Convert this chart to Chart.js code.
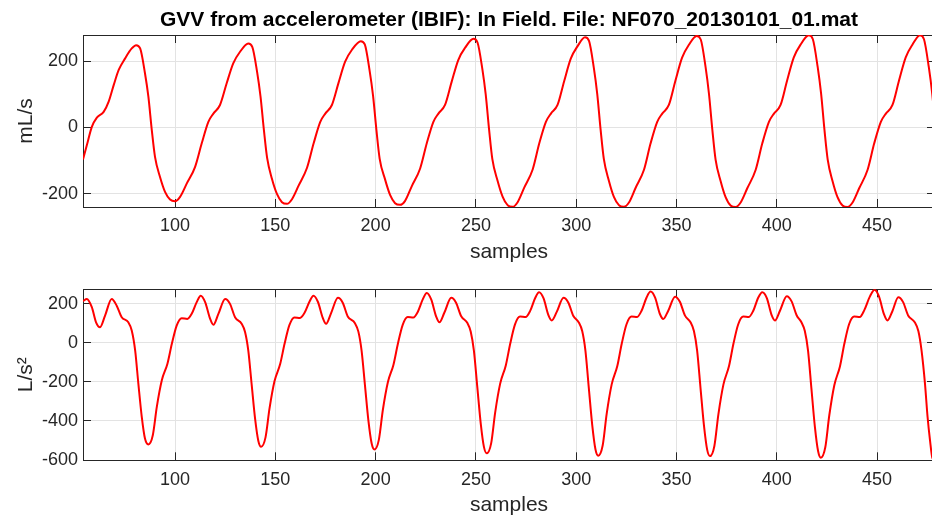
<!DOCTYPE html>
<html>
<head>
<meta charset="utf-8">
<script src="https://cdn.jsdelivr.net/npm/chart.js@4.4.0/dist/chart.umd.min.js"></script>
<style>
  html, body { margin: 0; padding: 0; background: #fff; overflow: hidden; }
  #wrap { position: relative; width: 932px; height: 518px; overflow: hidden; }
  .panel { position: absolute; left: 0; }
  #top { top: 0; }
  #bottom { top: 265px; }
</style>
</head>
<body>
<div id="wrap">
  <div class="panel" id="top"><canvas id="gvvChart" width="936" height="265"></canvas></div>
  <div class="panel" id="bottom"><canvas id="accChart" width="936" height="253"></canvas></div>
</div>
<script>
// axis limits and ticks
const sampleRange = [54.1, 478.9];
const sampleTicks = [100, 150, 200, 250, 300, 350, 400, 450];
const gvvRange = [-240.6, 279.7];
const gvvTicks = [-200, 0, 200];
const accRange = [-601.5, 273.7];
const accTicks = [-600, -400, -200, 0, 200];

// GVV (mL/s) - top panel
const gvvSamples = [
  54.1, 56, 58.5, 61, 64.4, 66.9, 69.4, 71.9, 75.1, 78.4, 80.6,
  82.6, 85, 86.7, 88.4, 90, 92.5, 95, 97.5, 100,
  102.5, 105.8, 110, 113.3, 116.6, 119.1, 122.4, 125.7, 129, 132.4, 136.5,
  138.5, 140.9, 142.6, 144.3, 145.9, 148.3, 150.8, 153.3, 155.8,
  158.3, 161.6, 165.8, 169.1, 172.4, 174.9, 178.2, 181.5, 184.8, 188.2, 192.6,
  194.6, 197, 198.7, 200.4, 202, 204.7, 207.2, 209.7, 212.2,
  214.7, 218, 222.2, 225.5, 228.8, 231.3, 234.6, 237.9, 241.2, 244.6, 248.8,
  250.8, 253.2, 254.9, 256.6, 258.2, 260.8, 263.3, 265.8, 268.3,
  270.8, 274.1, 278.3, 281.6, 284.9, 287.4, 290.7, 294, 297.3, 300.7, 304.4,
  306.4, 308.8, 310.5, 312.2, 313.8, 316.3, 318.8, 321.3, 323.8,
  326.3, 329.6, 333.8, 337.1, 340.4, 342.9, 346.2, 349.5, 352.8, 356.2, 360.1,
  362.1, 364.5, 366.2, 367.9, 369.5, 372, 374.5, 377, 379.5,
  382, 385.3, 389.5, 392.8, 396.1, 398.6, 401.9, 405.2, 408.5, 411.9, 416,
  418, 420.4, 422.1, 423.8, 425.4, 427.8, 430.3, 432.8, 435.3,
  437.8, 441.1, 445.3, 448.6, 451.9, 454.4, 457.7, 461, 464.3, 467.7, 471.4,
  473.4, 475.8, 477.5, 479.2
];
const gvvValues = [
  -97, -54, 2, 30, 47, 78, 128, 174, 209, 239, 249,
  239, 164, 93, -8, -89, -150, -195, -218, -223,
  -210, -170, -119, -48, 17, 42, 68, 133, 194, 229, 254,
  244, 168, 94, -8, -92, -155, -201, -226, -231,
  -217, -176, -122, -48, 17, 42, 68, 135, 199, 235, 261,
  251, 172, 97, -8, -94, -157, -204, -229, -234,
  -222, -178, -124, -48, 17, 42, 68, 138, 204, 241, 268,
  257, 177, 99, -8, -96, -161, -209, -235, -240,
  -226, -182, -127, -48, 17, 42, 68, 140, 208, 246, 273,
  262, 180, 101, -8, -96, -161, -210, -235, -240,
  -227, -183, -128, -48, 17, 42, 68, 142, 211, 250, 277,
  266, 183, 102, -8, -97, -162, -211, -236, -240.5,
  -227, -184, -128, -48, 17, 42, 68, 143, 212, 251, 279,
  267, 183, 103, -8, -97, -162, -211, -236, -240.5,
  -227, -184, -128, -48, 17, 42, 68, 143, 212, 251, 279,
  267, 183, 103, -8
];

// flow derivative (L/s^2) - bottom panel
const accSamples = [
  54.1, 56, 58.5, 60.6, 62.6, 65.1, 68.4, 70.9, 73.4, 76.7, 78.4, 80.1, 81.7, 83.4, 85, 86.7,
  88.9, 90.9, 93.4, 96.2, 98.4, 100.8, 103.3, 106.1, 108.3, 110.8, 112.8, 115, 117.5, 119.1, 121.6, 125, 127.4, 129.9,
  133.2, 134.9, 136.5, 138.2, 139.9, 141.5, 142.9,
  145.1, 147.1, 149.6, 152.4, 154.6, 157, 159.5, 162.3, 164.5, 167, 169, 171.2, 173.7, 175.3, 177.8, 181.2, 183.6, 186.1,
  189.7, 191.4, 193, 194.7, 196.4, 198, 199.4,
  201.6, 203.6, 206.1, 208.9, 211.1, 213.5, 216, 218.8, 221, 223.5, 225.5, 227.7, 230.2, 231.8, 234.3, 237.7, 240.1, 242.6,
  245.7, 247.4, 249, 250.7, 252.4, 254, 255.4,
  257.6, 259.6, 262.1, 264.9, 267.1, 269.5, 272, 274.8, 277, 279.5, 281.5, 283.7, 286.2, 287.8, 290.3, 293.7, 296.1, 298.6,
  301.3, 303, 304.6, 306.3, 308, 309.6, 311,
  313.2, 315.2, 317.7, 320.5, 322.7, 325.1, 327.6, 330.4, 332.6, 335.1, 337.1, 339.3, 341.8, 343.4, 345.9, 349.3, 351.7, 354.2,
  357, 358.7, 360.3, 362, 363.7, 365.3, 366.7,
  368.9, 370.9, 373.4, 376.2, 378.4, 380.8, 383.3, 386.1, 388.3, 390.8, 392.8, 395, 397.5, 399.1, 401.6, 405, 407.4, 409.9,
  412.3, 414, 415.6, 417.3, 419, 420.6, 422,
  424.2, 426.2, 428.7, 431.5, 433.7, 436.1, 438.6, 441.4, 443.6, 446.4, 448.8, 451, 453.5, 455.2, 457.6, 460.6, 463, 465.5,
  468.8, 470.6, 472.2, 473.9, 475.2, 476.4, 477.6, 478.6, 480.6
];
const accValues = [
  213, 224, 182, 105, 80, 139, 224, 190, 131, 105, 63, -39, -209, -379, -490, -520,
  -473, -328, -192, -107, -5, 88, 126, 122, 148, 208, 241, 208, 122, 92, 148, 224, 199, 131,
  97, 55, -39, -214, -388, -501, -532,
  -484, -336, -196, -109, -5, 90, 130, 127, 152, 210, 241, 210, 126, 97, 152, 230, 205, 135,
  100, 57, -40, -219, -398, -514, -546,
  -497, -344, -202, -112, -5, 92, 132, 130, 158, 222, 255, 222, 134, 105, 155, 230, 205, 137,
  102, 58, -40, -227, -412, -533, -566,
  -515, -357, -209, -116, -5, 94, 134, 132, 162, 228, 259, 228, 140, 114, 158, 230, 205, 137,
  104, 60, -40, -232, -421, -545, -578,
  -526, -364, -213, -119, -5, 95, 134, 132, 164, 232, 262, 232, 146, 122, 164, 236, 210, 140,
  105, 60, -40, -233, -423, -547, -580,
  -528, -366, -214, -119, -5, 95, 134, 132, 164, 232, 259, 230, 140, 114, 164, 238, 212, 141,
  105, 60, -40, -236, -429, -554, -588,
  -535, -371, -217, -121, -5, 96, 134, 132, 166, 236, 272, 236, 145, 114, 160, 233, 208, 140,
  105, 60, -40, -209, -380, -498, -590, -601, -550
];

const fontFamily = "'Liberation Sans', Arial, Helvetica, sans-serif";
const textColor = '#262626';
const gridColor = '#e3e3e3';

// matlab style box with inward ticks on all four sides
const boxPlugin = {
  id: 'matlabBox',
  beforeDatasetsDraw(chart) {
    const { ctx, chartArea: a, scales } = chart;
    const len = 8;
    const al = p => Math.round(p - 0.5) + 0.5;
    ctx.save();
    ctx.strokeStyle = textColor;
    ctx.lineWidth = 1;
    ctx.beginPath();
    scales.x.ticks.forEach(t => {
      const px = al(scales.x.getPixelForValue(t.value));
      ctx.moveTo(px, a.bottom); ctx.lineTo(px, a.bottom - len);
      ctx.moveTo(px, a.top); ctx.lineTo(px, a.top + len);
    });
    scales.y.ticks.forEach(t => {
      const py = al(scales.y.getPixelForValue(t.value));
      ctx.moveTo(a.left, py); ctx.lineTo(a.left + len, py);
      ctx.moveTo(a.right, py); ctx.lineTo(a.right - len, py);
    });
    ctx.stroke();
    ctx.strokeRect(al(a.left), al(a.top), Math.round(a.right) - Math.round(a.left), Math.round(a.bottom) - Math.round(a.top));
    ctx.restore();
  }
};

function makeChart(canvasId, xs, ys, yRange, yTicks, yLabel, cfg) {
  const points = xs.map((x, i) => ({ x: x, y: ys[i] }));
  return new Chart(document.getElementById(canvasId), {
    type: 'line',
    data: {
      datasets: [{
        data: points,
        borderColor: '#ff0000',
        borderWidth: 2,
        pointRadius: 0,
        fill: false,
        cubicInterpolationMode: 'monotone',
      }],
    },
    options: {
      responsive: false,
      animation: false,
      events: [],
      layout: { padding: { top: cfg.padTop, right: 1, left: 0, bottom: 0 } },
      plugins: {
        legend: { display: false },
        tooltip: { enabled: false },
        title: cfg.title ? {
          display: true,
          text: cfg.title,
          fullSize: false,
          color: '#000',
          font: { family: fontFamily, size: 21, weight: 'bold', lineHeight: 1.2 },
          padding: { top: 7.2, bottom: 2.6 },
        } : { display: false },
      },
      scales: {
        x: {
          type: 'linear',
          min: sampleRange[0],
          max: sampleRange[1],
          afterBuildTicks: s => { s.ticks = sampleTicks.map(v => ({ value: v })); },
          afterFit: s => { s.height = cfg.xHeight; s.paddingLeft = 0; s.paddingRight = 0; },
          grid: { color: gridColor, drawTicks: false },
          border: { display: false },
          ticks: {
            color: textColor,
            font: { family: fontFamily, size: 18 },
            padding: cfg.xTickPad,
            maxRotation: 0,
            callback: v => String(v),
          },
          title: {
            display: true,
            text: 'samples',
            color: textColor,
            font: { family: fontFamily, size: 21, lineHeight: 1.2 },
            padding: { top: 0, bottom: 0 },
          },
        },
        y: {
          type: 'linear',
          min: yRange[0],
          max: yRange[1],
          afterBuildTicks: s => { s.ticks = yTicks.map(v => ({ value: v })); },
          afterFit: s => { s.width = 83; s.paddingTop = 0; s.paddingBottom = 0; },
          grid: { color: gridColor, drawTicks: false },
          border: { display: false },
          ticks: {
            color: textColor,
            font: { family: fontFamily, size: 18 },
            padding: 5,
            callback: v => String(v),
          },
          title: {
            display: true,
            text: yLabel,
            color: textColor,
            font: { family: fontFamily, size: 21, lineHeight: 1.2 },
            padding: { top: 14, bottom: 0 },
          },
        },
      },
    },
    plugins: [boxPlugin],
  });
}

makeChart('gvvChart', gvvSamples, gvvValues, gvvRange, gvvTicks, 'mL/s', {
  title: 'GVV from accelerometer (IBIF): In Field. File: NF070_20130101_01.mat',
  padTop: 0, xHeight: 58, xTickPad: 8,
});
makeChart('accChart', accSamples, accValues, accRange, accTicks, 'L/s\u00B2', {
  padTop: 24.3, xHeight: 57.7, xTickPad: 9,
});
</script>
</body>
</html>
